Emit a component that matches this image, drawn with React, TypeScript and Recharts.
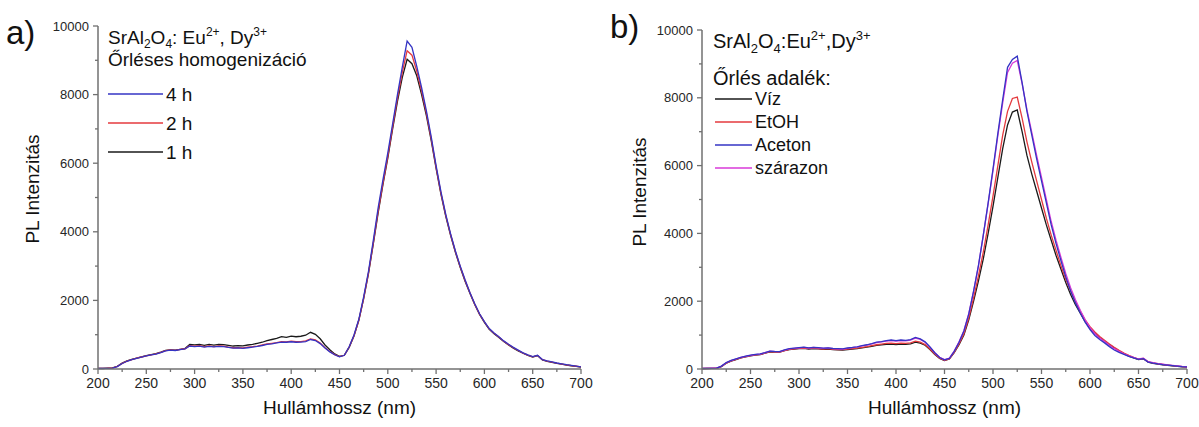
import { Line, LineChart, XAxis, YAxis } from "recharts";

// Wavelength grid (nm) shared by both panels
const WAVELENGTHS = [
  200, 205, 210, 215, 220, 225, 230, 235, 240, 245,
  250, 255, 260, 265, 270, 275, 280, 285, 290, 295,
  300, 305, 310, 315, 320, 325, 330, 335, 340, 345,
  350, 355, 360, 365, 370, 375, 380, 385, 390, 395,
  400, 405, 410, 415, 420, 425, 430, 435, 440, 445,
  450, 455, 460, 465, 470, 475, 480, 485, 490, 495,
  500, 505, 510, 515, 520, 525, 530, 535, 540, 545,
  550, 555, 560, 565, 570, 575, 580, 585, 590, 595,
  600, 605, 610, 615, 620, 625, 630, 635, 640, 645,
  650, 655, 660, 665, 670, 675, 680, 685, 690, 695,
  700,
];

// Panel a) – milling time
const A_1H = [
  20, 15, 25, 30, 80, 170, 235, 280, 320, 355,
  390, 420, 445, 490, 540, 560, 550, 575, 595, 720,
  705, 720, 690, 715, 695, 720, 710, 690, 670, 680,
  675, 700, 720, 750, 780, 830, 860, 890, 945, 925,
  960, 940, 955, 985, 1070, 1010, 880, 700, 560, 440,
  370, 400, 630, 960, 1420, 2050, 2780, 3650, 4550, 5380,
  6150, 7000, 7800, 8500, 9030, 8900, 8550, 8000, 7380, 6650,
  5850, 5100, 4450, 3900, 3400, 2960, 2560, 2210, 1880, 1590,
  1360, 1160, 1030, 920, 800, 700, 610, 530, 460, 400,
  350, 390, 265, 225, 195, 165, 140, 115, 95, 75,
  55,
];
const A_2H = [
  18, 20, 22, 28, 75, 165, 230, 275, 315, 350,
  385, 415, 440, 485, 535, 555, 545, 570, 590, 680,
  665, 680, 650, 670, 655, 675, 665, 640, 620, 625,
  615, 635, 650, 670, 700, 730, 750, 770, 800, 790,
  810, 795, 800, 820, 880, 850, 760, 620, 510, 420,
  360, 400, 640, 970, 1420, 2060, 2800, 3680, 4600, 5420,
  6200, 7060, 7900, 8650, 9280, 9150, 8680, 8100, 7450, 6700,
  5880, 5130, 4480, 3920, 3420, 2980, 2580, 2220, 1890, 1600,
  1370, 1170, 1040, 930, 810, 710, 620, 540, 465, 405,
  355, 395, 270, 230, 200, 170, 145, 120, 100, 80,
  60,
];
const A_4H = [
  15, 18, 20, 25, 70, 160, 225, 270, 310, 345,
  380, 410, 435, 480, 530, 550, 540, 565, 585, 670,
  650, 665, 640, 660, 645, 660, 650, 630, 610, 615,
  600, 620, 640, 660, 685, 715, 735, 760, 785, 780,
  795, 780, 785, 800, 860, 830, 740, 610, 500, 415,
  355, 400, 650, 990, 1450, 2100, 2850, 3750, 4700, 5520,
  6300, 7150, 8000, 8800, 9560, 9380, 8820, 8200, 7520, 6760,
  5930, 5170, 4510, 3940, 3440, 3000, 2600, 2230, 1900, 1610,
  1380, 1180, 1050, 940, 820, 720, 630, 550, 470, 410,
  360, 400, 275, 235, 205, 175, 150, 125, 105, 85,
  65,
];

// Panel b) – milling additive
const B_VIZ = [
  12, 15, 18, 20, 70, 170, 235, 280, 325, 360,
  390, 410, 425, 465, 505, 500, 495, 540, 575, 590,
  600, 610, 590, 605, 595, 580, 590, 570, 565, 560,
  575, 590, 600, 625, 645, 670, 695, 710, 725, 735,
  720, 735, 725, 740, 790, 760, 700, 575, 430, 315,
  250, 295, 480, 720, 1000, 1450, 2000, 2600, 3250, 4000,
  4800, 5650, 6500, 7200, 7580, 7640, 7000, 6300, 5750, 5250,
  4750, 4250, 3800, 3350, 2950, 2550, 2200, 1900, 1650, 1400,
  1200, 1050, 930, 820, 720, 620, 530, 450, 380, 330,
  280, 300, 200, 170, 145, 125, 110, 95, 80, 65,
  55,
];
const B_ETOH = [
  15, 18, 20, 22, 75, 175, 240, 285, 330, 365,
  395, 415, 430, 470, 510, 505, 500, 545, 580, 595,
  610, 620, 600, 615, 605, 590, 600, 580, 575, 570,
  590, 600, 615, 640, 660, 690, 715, 735, 755, 765,
  750, 765, 755, 770, 820, 790, 720, 590, 440, 320,
  255, 300, 490, 740, 1040, 1500, 2100, 2750, 3450, 4250,
  5100, 6000, 6900, 7600, 7980, 8020, 7400, 6700, 6100, 5550,
  5000, 4450, 3950, 3500, 3050, 2650, 2300, 1980, 1700, 1450,
  1250, 1090, 960, 850, 740, 640, 550, 470, 400, 340,
  290, 310, 210, 180, 155, 135, 115, 100, 85, 70,
  60,
];
const B_ACETON = [
  15, 20, 18, 25, 85, 190, 255, 300, 345, 380,
  410, 430, 445, 485, 530, 520, 515, 565, 600, 615,
  630, 645, 625, 640, 630, 615, 625, 605, 600, 595,
  620, 635, 655, 690, 715, 750, 790, 810, 840, 855,
  835, 855, 845, 865, 930, 890, 800, 650, 480, 340,
  270, 310, 520, 790, 1120, 1620, 2300, 3050, 3950, 4900,
  5900, 6950, 7950, 8900, 9130, 9230, 8450, 7600, 6900, 6200,
  5550, 4900, 4250, 3700, 3200, 2720, 2300, 1950, 1650, 1380,
  1160, 990, 870, 770, 660, 560, 490, 430, 370, 325,
  285, 305, 205, 175, 150, 130, 115, 100, 85, 70,
  60,
];
const B_SZARAZON = [
  18, 15, 22, 28, 80, 185, 250, 295, 340, 375,
  405, 425, 440, 480, 525, 515, 510, 560, 595, 610,
  625, 640, 620, 635, 625, 610, 620, 600, 595, 590,
  610, 630, 650, 680, 705, 740, 775, 800, 825, 840,
  820, 840, 830, 850, 910, 875, 790, 645, 480, 345,
  275, 320, 530, 800, 1130, 1630, 2300, 3050, 3950, 4880,
  5850, 6880, 7850, 8750, 9020, 9100, 8420, 7650, 6980, 6300,
  5650, 5000, 4350, 3800, 3300, 2820, 2400, 2040, 1730, 1450,
  1220, 1040, 910, 810, 700, 600, 520, 450, 390, 340,
  295, 320, 215, 185, 160, 140, 120, 105, 90, 75,
  65,
];

const X_TICKS = [
  200, 225, 250, 275, 300, 325, 350, 375, 400, 425, 450,
  475, 500, 525, 550, 575, 600, 625, 650, 675, 700,
];
const Y_TICKS = [0, 1000, 2000, 3000, 4000, 5000, 6000, 7000, 8000, 9000, 10000];

const FONT = '"Liberation Sans", Arial, sans-serif';
const AXIS_COLOR = "#707070";
const TEXT_COLOR = "#262626";

const BLACK = "#1a1a1a";
const RED = "#e43a3e";
const BLUE = "#3434c4";
const MAGENTA = "#d83ad8";

const CHART_HEIGHT = 427;
const X_AXIS_HEIGHT = 40;
const Y_AXIS_WIDTH = 60;
const MARGIN_BOTTOM = 18;
const AXIS_Y = CHART_HEIGHT - MARGIN_BOTTOM - X_AXIS_HEIGHT;

const panelAData = WAVELENGTHS.map((wl, i) => ({
  wl,
  h1: A_1H[i],
  h2: A_2H[i],
  h4: A_4H[i],
}));

const panelBData = WAVELENGTHS.map((wl, i) => ({
  wl,
  viz: B_VIZ[i],
  etoh: B_ETOH[i],
  aceton: B_ACETON[i],
  szarazon: B_SZARAZON[i],
}));

function XTick(props: any) {
  const { x, payload } = props;
  const value = payload.value as number;
  const major = value % 50 === 0;
  return (
    <g>
      <line
        x1={x}
        x2={x}
        y1={AXIS_Y}
        y2={AXIS_Y + (major ? 5 : 3)}
        stroke={AXIS_COLOR}
        strokeWidth={1.3}
      />
      {major && (
        <text x={x} y={AXIS_Y + 19} textAnchor="middle" fontSize={14} fill={TEXT_COLOR} fontFamily={FONT}>
          {value}
        </text>
      )}
    </g>
  );
}

function makeYTick(axisX: number) {
  return function YTick(props: any) {
    const { y, payload } = props;
    const value = payload.value as number;
    const major = value % 2000 === 0;
    return (
      <g>
        <line
          x1={axisX - (major ? 5 : 3)}
          x2={axisX}
          y1={y}
          y2={y}
          stroke={AXIS_COLOR}
          strokeWidth={1.3}
        />
        {major && (
          <text x={axisX - 9} y={y + 4.5} textAnchor="end" fontSize={13} fill={TEXT_COLOR} fontFamily={FONT}>
            {value}
          </text>
        )}
      </g>
    );
  };
}

type SeriesDef = { key: string; color: string };

type PanelProps = {
  data: Record<string, number>[];
  series: SeriesDef[];
  left: number;
  width: number;
  margin: { top: number; right: number; left: number; bottom: number };
};

function Panel({ data, series, left, width, margin }: PanelProps) {
  const axisX = margin.left + Y_AXIS_WIDTH;
  return (
    <div style={{ position: "absolute", left, top: 0 }}>
      <LineChart width={width} height={CHART_HEIGHT} data={data} margin={margin}>
        <XAxis
          type="number"
          dataKey="wl"
          domain={[200, 700]}
          ticks={X_TICKS}
          interval={0}
          height={X_AXIS_HEIGHT}
          tickLine={false}
          axisLine={{ stroke: AXIS_COLOR, strokeWidth: 1.5 }}
          tick={XTick}
        />
        <YAxis
          type="number"
          domain={[0, 10000]}
          ticks={Y_TICKS}
          interval={0}
          width={Y_AXIS_WIDTH}
          tickLine={false}
          axisLine={{ stroke: AXIS_COLOR, strokeWidth: 1.5 }}
          tick={makeYTick(axisX)}
        />
        {series.map((s) => (
          <Line
            key={s.key}
            type="linear"
            dataKey={s.key}
            stroke={s.color}
            strokeWidth={1.3}
            dot={false}
            isAnimationActive={false}
          />
        ))}
      </LineChart>
    </div>
  );
}

function LegendRow({ x, y, len, color, label, size }: { x: number; y: number; len: number; color: string; label: string; size: number }) {
  return (
    <g>
      <line x1={x} x2={x + len} y1={y} y2={y} stroke={color} strokeWidth={1.3} />
      <text x={x + len + 3} y={y + size * 0.36} fontSize={size}>
        {label}
      </text>
    </g>
  );
}

export default function App() {
  return (
    <div
      style={{
        position: "absolute",
        left: 0,
        top: 0,
        width: 1199,
        height: CHART_HEIGHT,
        background: "#fff",
        overflow: "hidden",
      }}
    >
      <Panel
        data={panelAData}
        series={[
          { key: "h1", color: BLACK },
          { key: "h2", color: RED },
          { key: "h4", color: BLUE },
        ]}
        left={0}
        width={600}
        margin={{ top: 26, right: 19, left: 38, bottom: MARGIN_BOTTOM }}
      />
      <Panel
        data={panelBData}
        series={[
          { key: "viz", color: BLACK },
          { key: "etoh", color: RED },
          { key: "szarazon", color: MAGENTA },
          { key: "aceton", color: BLUE },
        ]}
        left={600}
        width={599}
        margin={{ top: 30, right: 12, left: 42, bottom: MARGIN_BOTTOM }}
      />

      <svg
        width={1199}
        height={CHART_HEIGHT}
        style={{ position: "absolute", left: 0, top: 0, pointerEvents: "none" }}
        fontFamily={FONT}
        fill="#111"
      >
        {/* panel a) */}
        <text x={6} y={44} fontSize={33}>a)</text>
        <text x={39} y={189} fontSize={19} textAnchor="middle" transform="rotate(-90 39 189)">
          PL Intenzitás
        </text>
        <text x={339.5} y={414} fontSize={19} textAnchor="middle">
          Hullámhossz (nm)
        </text>
        <text x={108} y={44} fontSize={19}>
          SrAl<tspan fontSize={12} dy={4}>2</tspan>
          <tspan dy={-4}>O</tspan>
          <tspan fontSize={12} dy={4}>4</tspan>
          <tspan dy={-4}>: Eu</tspan>
          <tspan fontSize={12} dy={-8}>2+</tspan>
          <tspan dy={8}>, Dy</tspan>
          <tspan fontSize={12} dy={-8}>3+</tspan>
        </text>
        <text x={108} y={66} fontSize={19}>
          Őrléses homogenizáció
        </text>
        <LegendRow x={108} y={94} len={55} color={BLUE} label="4 h" size={19} />
        <LegendRow x={108} y={123} len={55} color={RED} label="2 h" size={19} />
        <LegendRow x={108} y={152} len={55} color={BLACK} label="1 h" size={19} />

        {/* panel b) */}
        <text x={610} y={38} fontSize={33}>b)</text>
        <text x={646} y={192} fontSize={19} textAnchor="middle" transform="rotate(-90 646 192)">
          PL Intenzitás
        </text>
        <text x={944.5} y={414} fontSize={19} textAnchor="middle">
          Hullámhossz (nm)
        </text>
        <text x={713} y={48} fontSize={20}>
          SrAl<tspan fontSize={13} dy={5}>2</tspan>
          <tspan dy={-5}>O</tspan>
          <tspan fontSize={13} dy={5}>4</tspan>
          <tspan dy={-5}>:Eu</tspan>
          <tspan fontSize={13} dy={-8}>2+</tspan>
          <tspan dy={8}>,Dy</tspan>
          <tspan fontSize={13} dy={-8}>3+</tspan>
        </text>
        <text x={713} y={85} fontSize={20}>
          Őrlés adalék:
        </text>
        <LegendRow x={715} y={99} len={37} color={BLACK} label="Víz" size={18} />
        <LegendRow x={715} y={122} len={37} color={RED} label="EtOH" size={18} />
        <LegendRow x={715} y={145} len={37} color={BLUE} label="Aceton" size={18} />
        <LegendRow x={715} y={168} len={37} color={MAGENTA} label="szárazon" size={18} />
      </svg>
    </div>
  );
}
